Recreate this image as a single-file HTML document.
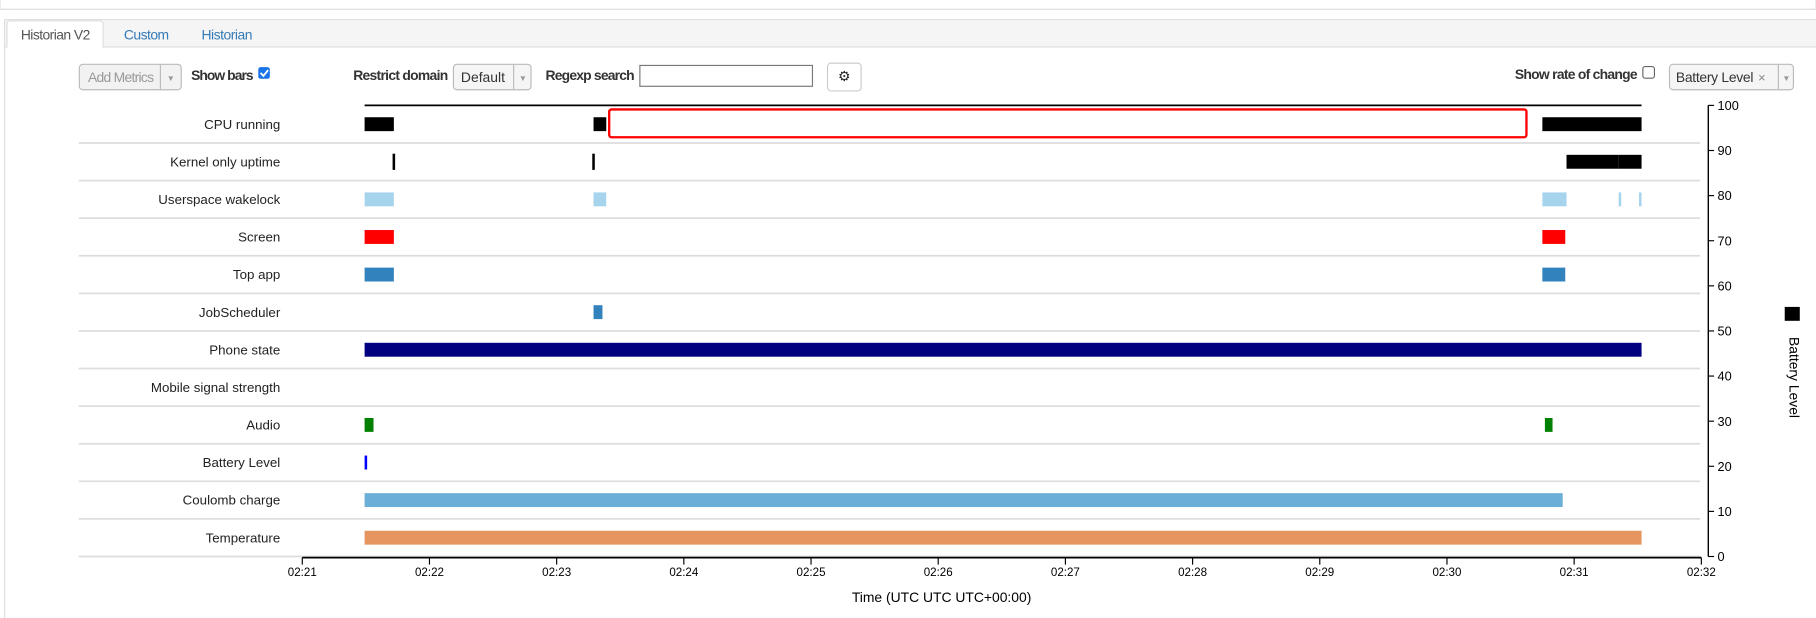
<!DOCTYPE html>
<html><head><meta charset="utf-8"><style>
html,body{margin:0;padding:0;background:#fff;width:1816px;height:618px;overflow:hidden}
svg{display:block;font-family:"Liberation Sans",Arial,sans-serif}
</style></head><body>
<svg id="s" width="1816" height="618" viewBox="0 0 1568 533.6" preserveAspectRatio="none" xmlns="http://www.w3.org/2000/svg">
<g>
<rect x="0" y="-5" width="1568" height="13" fill="#fff" stroke="#ddd"/>
<rect x="4" y="17" width="1570" height="520" fill="#fff" stroke="#ddd"/>
<rect x="4.5" y="17.5" width="1570" height="23" fill="#f5f5f5"/>
<line x1="4" y1="40.5" x2="1568" y2="40.5" stroke="#ddd"/>
</g>
<g><path d="M6 41 V21 Q6 18 9 18 H86 Q89 18 89 21 V41" fill="#fff" stroke="#ddd"/><text x="18" y="34" font-size="12" fill="#555" textLength="60">Historian V2</text></g>
<text x="107" y="34" font-size="12" fill="#337ab7" textLength="39">Custom</text>
<text x="174" y="34" font-size="12" fill="#337ab7" textLength="44">Historian</text>
<g><rect x="68.5" y="55.5" width="88" height="22" rx="3" fill="#f2f2f2" stroke="#bbb"/><line x1="138.5" y1="56" x2="138.5" y2="77" stroke="#bbb"/><text x="76" y="71" font-size="12" fill="#999" textLength="57">Add Metrics</text><text x="144" y="70" font-size="7" fill="#999">▼</text></g>
<text x="165" y="69" font-size="12" font-weight="bold" fill="#333" textLength="54">Show bars</text>
<g><rect x="223" y="58" width="10" height="10" rx="2" fill="#1a73e8"/><path d="M225 63 l2.5 2.5 l4 -5" stroke="#fff" stroke-width="1.6" fill="none"/></g>
<text x="305" y="69" font-size="12" font-weight="bold" fill="#333" textLength="82">Restrict domain</text>
<g><rect x="391.5" y="55.5" width="67" height="22" rx="3" fill="#f5f5f5" stroke="#bbb"/><line x1="443.5" y1="56" x2="443.5" y2="77" stroke="#bbb"/><text x="398" y="71" font-size="12" fill="#333" textLength="38">Default</text><text x="448" y="70" font-size="7" fill="#999">▼</text></g>
<text x="471" y="69" font-size="12" font-weight="bold" fill="#333" textLength="77">Regexp search</text>
<rect x="552.5" y="56.5" width="149" height="18" fill="#fff" stroke="#777"/>
<g><rect x="714.5" y="54.5" width="29" height="24" rx="3" fill="#fff" stroke="#ccc"/><text x="729" y="70" font-size="12" text-anchor="middle" fill="#222">⚙</text></g>
<text x="1308" y="68" font-size="12" font-weight="bold" fill="#333" textLength="106">Show rate of change</text>
<rect x="1418.5" y="57.5" width="10" height="10" rx="2" fill="#fff" stroke="#666"/>
<g><rect x="1441.5" y="55.5" width="107" height="22" rx="3" fill="#f5f5f5" stroke="#bbb"/><line x1="1535.5" y1="56" x2="1535.5" y2="77" stroke="#bbb"/><text x="1447" y="71" font-size="12" fill="#333" textLength="67">Battery Level</text><text x="1518" y="71" font-size="11" fill="#888">×</text><text x="1539" y="70" font-size="7" fill="#999">▼</text></g>
<g id="chart"></g>
</svg>
<script>
const rowNames=["CPU running","Kernel only uptime","Userspace wakelock","Screen","Top app","JobScheduler","Phone state","Mobile signal strength","Audio","Battery Level","Coulomb charge","Temperature"];
const rowColors=["#000","#000","#a6d4ed","#f00","#3182bd","#3182bd","#000080","#999","#008000","#0000ff","#6baed6","#e6955f"];
// intervals in minutes since 02:21: [rowIndex, start, end]
const intervals=[[0,0.49,0.72],[0,2.29,2.39],[0,9.75,10.53],
[1,0.71,0.73],[1,2.28,2.30],[1,9.94,10.35],[1,10.35,10.53],
[2,0.49,0.72],[2,2.29,2.39],[2,9.75,9.94],[2,10.35,10.37],[2,10.51,10.53],
[3,0.49,0.72],[3,9.75,9.93],[4,0.49,0.72],[4,9.75,9.93],[5,2.29,2.36],
[6,0.49,10.53],[8,0.49,0.56],[8,9.77,9.83],[9,0.49,0.51],[10,0.49,9.91],[11,0.49,10.53]];
const xTicks=["02:21","02:22","02:23","02:24","02:25","02:26","02:27","02:28","02:29","02:30","02:31","02:32"];
const yTicks=[0,10,20,30,40,50,60,70,80,90,100];
const X0=261,X1=1469,TOP=91,BOTTOM=480.5;
const xs=t=>X0+t*(X1-X0)/(xTicks.length-1);
const rowH=(BOTTOM-TOP)/rowNames.length;
const ry=i=>TOP+i*rowH;
const yv=v=>BOTTOM-(v/100)*(BOTTOM-TOP);
const g=document.getElementById('chart');
const NS="http://www.w3.org/2000/svg";
function mk(tag,at,txt){const e=document.createElementNS(NS,tag);for(const k in at)e.setAttribute(k,at[k]);if(txt!=null)e.textContent=txt;g.appendChild(e);return e;}
rowNames.forEach((n,i)=>{
 const l=mk('line',{x1:68,x2:1468,y1:ry(i+1),y2:ry(i+1),stroke:'#ddd','stroke-width':1.5});
 
 
 const t=mk('text',{x:242,y:ry(i)+rowH/2+4,'font-size':11.5,'text-anchor':'end',fill:'#222'},n);
 
 
});
const dl=mk('line',{x1:xs(0.49),x2:xs(10.53),y1:TOP,y2:TOP,stroke:'#000','stroke-width':1.5});


intervals.forEach(([r,s,e])=>{
 const thin=r===1&&e-s<0.05;
 const w=Math.max(xs(e)-xs(s),1.5);
 const h=thin?14:12;
 const b=mk('rect',{x:xs(s),y:ry(r)+rowH/2-h/2,width:w,height:h,fill:rowColors[r]});
 
 
});
const hl=mk('rect',{x:526,y:94.5,width:792,height:24,rx:2,fill:'none',stroke:'#f00','stroke-width':2});


const ax=mk('line',{x1:X0,x2:X1,y1:BOTTOM+1,y2:BOTTOM+1,stroke:'#000','stroke-width':1.5});


xTicks.forEach((t,i)=>{
 mk('line',{x1:xs(i),x2:xs(i),y1:BOTTOM+1,y2:BOTTOM+7,stroke:'#000'});
 const tx=mk('text',{x:xs(i),y:BOTTOM+17,'font-size':10,'text-anchor':'middle',fill:'#000'},t);
 
 
});
const xt=mk('text',{x:813,y:520,'font-size':12,'text-anchor':'middle',fill:'#000'},"Time (UTC UTC UTC+00:00)");


const ya=mk('line',{x1:1475,x2:1475,y1:TOP,y2:BOTTOM,stroke:'#000','stroke-width':1.2});


yTicks.forEach(v=>{
 mk('line',{x1:1475,x2:1480,y1:yv(v),y2:yv(v),stroke:'#000'});
 const tx=mk('text',{x:1483,y:yv(v)+4,'font-size':11,fill:'#000'},v);
 
 
});
const lg=mk('rect',{x:1541,y:265,width:13,height:12,fill:'#000'});


const lt=mk('text',{x:1545,y:291,'font-size':12,fill:'#000',transform:'rotate(90 1545 291)'},"Battery Level");


</script>
</body></html>
